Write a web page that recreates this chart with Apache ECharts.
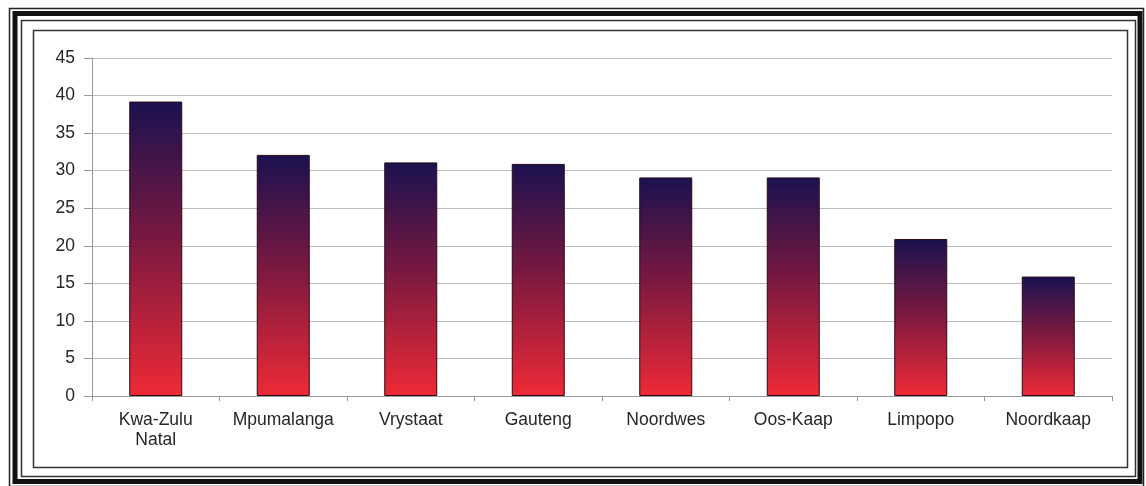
<!DOCTYPE html>
<html>
<head>
<meta charset="utf-8">
<script src="https://cdn.jsdelivr.net/npm/echarts@6/dist/echarts.min.js"></script>
<style>
html,body{margin:0;padding:0;background:#fff;}
#chart{width:1146px;height:486px;}
</style>
</head>
<body>
<div id="chart"></div>
<script>
var categories = ['Kwa-Zulu\nNatal', 'Mpumalanga', 'Vrystaat', 'Gauteng', 'Noordwes', 'Oos-Kaap', 'Limpopo', 'Noordkaap'];
var values = [39.2, 32.1, 31.1, 30.9, 29.1, 29.1, 20.9, 15.9];
var yTicks = [0, 5, 10, 15, 20, 25, 30, 35, 40, 45];

var chart = echarts.init(document.getElementById('chart'), null, {renderer: 'canvas'});
var font = 'Liberation Sans';
var option = {
  backgroundColor: '#ffffff',
  animation: false,
  grid: {left: 92, right: 34, top: 58, bottom: 90},
  xAxis: {
    type: 'category',
    data: categories,
    axisLine: {show: true, lineStyle: {color: '#999999', width: 1}},
    axisTick: {show: true, alignWithLabel: false, length: 5, lineStyle: {color: '#999999'}},
    axisLabel: {fontFamily: font, fontSize: 17.5, color: '#262626', margin: 14, lineHeight: 20, interval: 0}
  },
  yAxis: {
    type: 'value',
    min: yTicks[0],
    max: yTicks[yTicks.length - 1],
    interval: 5,
    axisLine: {show: true, lineStyle: {color: '#999999', width: 1}},
    axisTick: {show: true, length: 8, lineStyle: {color: '#999999'}},
    axisLabel: {fontFamily: font, fontSize: 17.5, color: '#262626', margin: 17},
    splitLine: {show: true, lineStyle: {color: '#bcbcbc', width: 1}}
  },
  series: [{
    type: 'bar',
    data: values,
    barWidth: 53,
    itemStyle: {
      borderColor: '#2a0a14',
      borderWidth: 1,
      color: new echarts.graphic.LinearGradient(0, 0, 0, 1, [
        {offset: 0, color: '#1a1250'},
        {offset: 0.45, color: '#761840'},
        {offset: 1, color: '#ee2a36'}
      ])
    }
  }],
  graphic: [
    {type: 'rect', shape: {x: 9.5, y: 8.5, width: 1134, height: 478}, style: {fill: null, stroke: '#222', lineWidth: 1.5}, z: 100},
    {type: 'rect', shape: {x: 15, y: 13.5, width: 1125, height: 468}, style: {fill: null, stroke: '#111', lineWidth: 5}, z: 100},
    {type: 'rect', shape: {x: 21.5, y: 20.5, width: 1114, height: 456}, style: {fill: null, stroke: '#333', lineWidth: 1.5}, z: 100},
    {type: 'rect', shape: {x: 33.5, y: 30.5, width: 1094, height: 437}, style: {fill: null, stroke: '#333', lineWidth: 1.5}, z: 100}
  ]
};
chart.setOption(option);
</script>
</body>
</html>
